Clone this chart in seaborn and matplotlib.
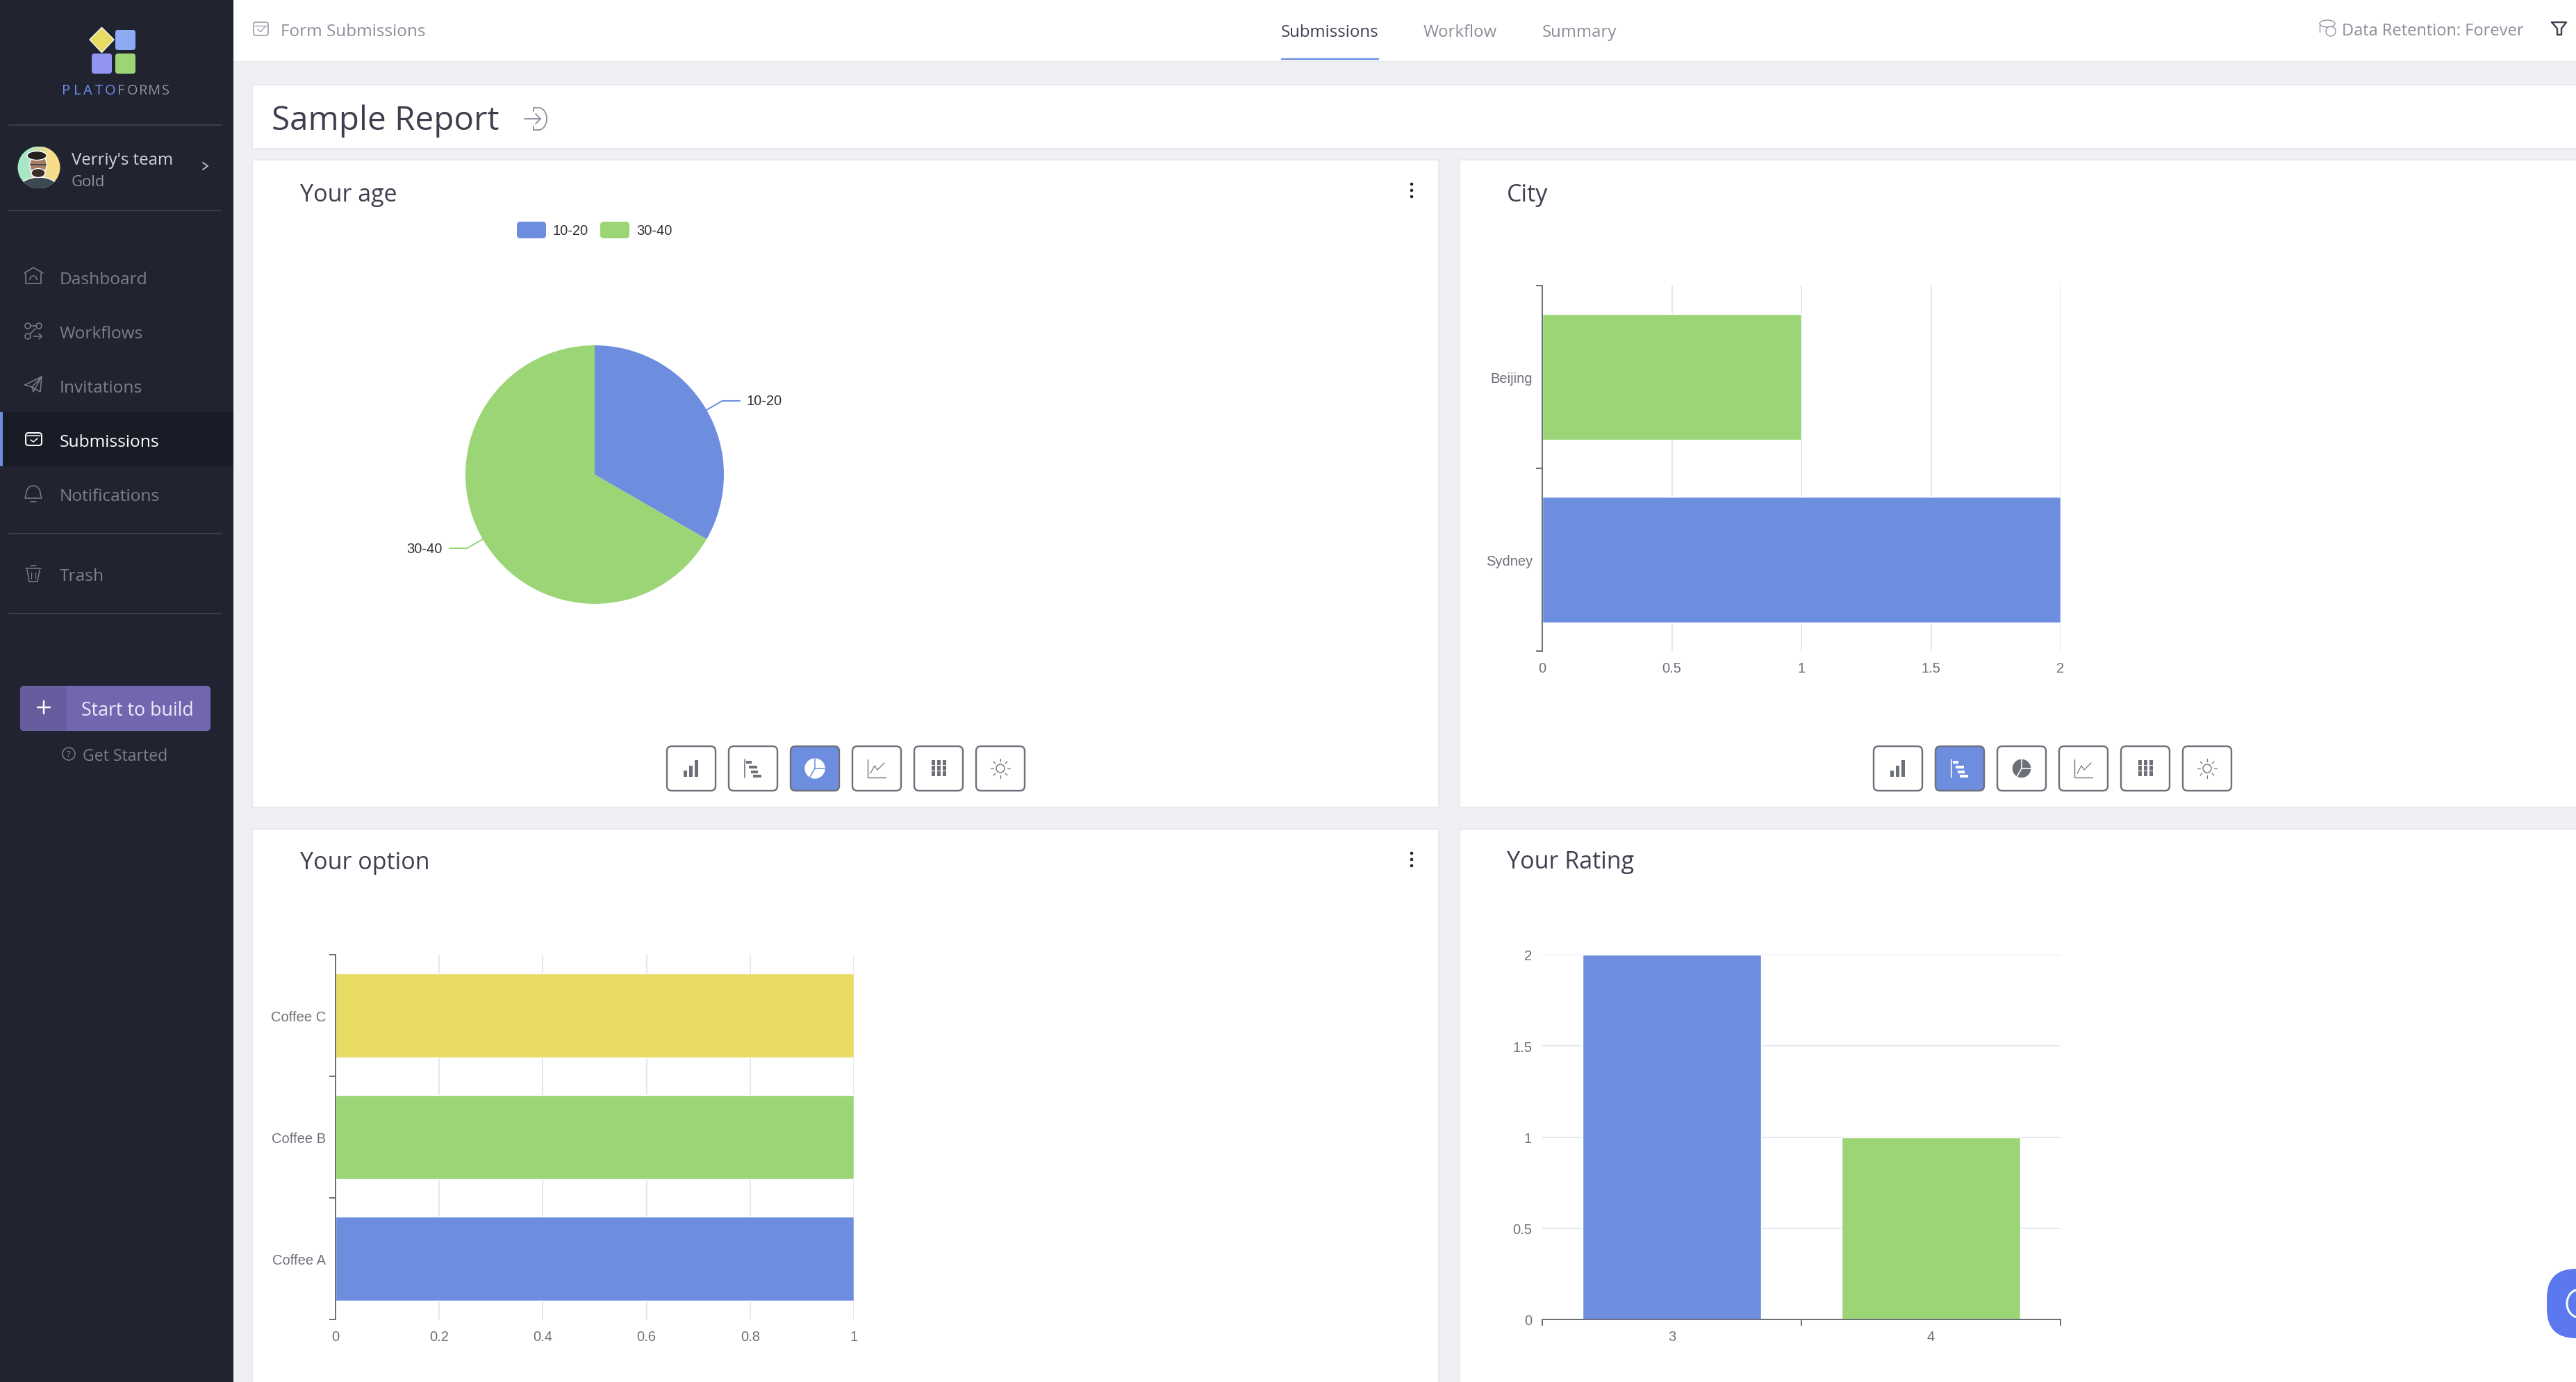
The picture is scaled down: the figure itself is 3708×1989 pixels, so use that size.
import matplotlib
matplotlib.use("Agg")
import matplotlib.pyplot as plt
import numpy as np
import pandas as pd
import seaborn as sns
from matplotlib.patches import Arc, Circle, Ellipse, FancyBboxPatch, Polygon, Rectangle, Wedge

W, H = 3708, 1990

BLUE = '#6d8ddf'
GREEN = '#9bd576'
YELLOW = '#e7db63'
AXIS = '#6e7079'
GRID = '#e4e6f2'
SIDEBAR = '#212430'
PAGE = '#eff0f4'
INK = '#3f3f50'
MUTED = '#8b8e99'

age_labels = ['10-20', '30-40']
age_values = [1, 2]
age_colors = [BLUE, GREEN]

city_labels = ['Beijing', 'Sydney']
city_values = [1, 2]
city_colors = [GREEN, BLUE]
city_ticks = [0, 0.5, 1, 1.5, 2]

option_labels = ['Coffee C', 'Coffee B', 'Coffee A']
option_values = [1, 1, 1]
option_colors = [YELLOW, GREEN, BLUE]
option_ticks = [0, 0.2, 0.4, 0.6, 0.8, 1]

rating_labels = ['3', '4']
rating_values = [2, 1]
rating_colors = [BLUE, GREEN]
rating_ticks = [0, 0.5, 1, 1.5, 2]

menu_items = ['Dashboard', 'Workflows', 'Invitations', 'Submissions', 'Notifications', 'Trash']
menu_y = [399, 477, 555, 633, 711, 826]
tabs = ['Submissions', 'Workflow', 'Summary']
tab_x = [1914, 2102, 2273]

sns.set_style("white")
plt.rcParams['font.family'] = ['Open Sans', 'DejaVu Sans']

fig = plt.figure(figsize=(W / 100, H / 100), dpi=100, facecolor=PAGE)
bg = fig.add_axes([0, 0, 1, 1], zorder=0)
bg.set_xlim(0, W)
bg.set_ylim(H, 0)
bg.axis('off')


def px(size):
    return size * 0.72


def txt(x, y, s, size, color=INK, ha='left', family='Open Sans', zorder=7, **kw):
    # Open Sans sits a little high with va='center'
    dy = 3 if family == 'Open Sans' else 0
    bg.text(x, y + dy, s, fontsize=px(size), color=color, ha=ha, va='center', family=family, zorder=zorder, **kw)


def box(x0, y0, x1, y1, color, edge='none', lw=0, round_px=0, z=3):
    if round_px:
        p = FancyBboxPatch((x0, y0), x1 - x0, y1 - y0, boxstyle=f'round,pad=0,rounding_size={round_px}',
                           fc=color, ec=edge, lw=px(lw), zorder=z)
    else:
        p = Rectangle((x0, y0), x1 - x0, y1 - y0, fc=color, ec=edge, lw=px(lw), zorder=z)
    bg.add_patch(p)


def seg(xs, ys, color, lw=2, z=4):
    bg.plot(xs, ys, color=color, lw=px(lw), zorder=z, solid_capstyle='round')


def chart_axes(x0, y0, x1, y1):
    ax = fig.add_axes([x0 / W, 1 - y1 / H, (x1 - x0) / W, (y1 - y0) / H], zorder=2)
    ax.patch.set_alpha(0)
    return ax


def plot_hbar(rect, labels, values, colors, ticks):
    ax = chart_axes(*rect)
    sns.barplot(x=values, y=labels, hue=labels, palette=colors, width=0.69, dodge=False,
                legend=False, saturation=1, ax=ax)
    ax.set_xlim(0, ticks[-1])
    ax.set_ylim(len(labels) - 0.5, -0.5)
    ax.set_xticks(ticks)
    ax.set_xticklabels([f'{t:g}' for t in ticks])
    ax.set_yticks(np.arange(-0.5, len(labels)), minor=True)
    ax.grid(axis='x', color=GRID, lw=px(2))
    ax.set_axisbelow(True)
    for side in ['top', 'right', 'bottom']:
        ax.spines[side].set_visible(False)
    ax.spines['left'].set_color(AXIS)
    ax.spines['left'].set_linewidth(px(2))
    ax.tick_params(axis='x', length=0, pad=px(15), labelsize=px(20.2), labelcolor=AXIS)
    ax.tick_params(axis='y', which='major', length=0, pad=px(14), labelsize=px(20.2), labelcolor=AXIS)
    ax.tick_params(axis='y', which='minor', left=True, length=px(9), width=px(2), color=AXIS)
    for lab in ax.get_xticklabels() + ax.get_yticklabels():
        lab.set_family('Liberation Sans')
    ax.set_xlabel('')
    ax.set_ylabel('')
    return ax


def plot_vbar(rect, labels, values, colors, ticks):
    ax = chart_axes(*rect)
    sns.barplot(x=labels, y=values, hue=labels, palette=colors, width=0.69, dodge=False,
                legend=False, saturation=1, ax=ax)
    ax.set_xlim(-0.5, len(labels) - 0.5)
    ax.set_ylim(0, ticks[-1])
    ax.set_yticks(ticks)
    ax.set_yticklabels([f'{t:g}' for t in ticks])
    ax.set_xticks(np.arange(-0.5, len(labels)), minor=True)
    ax.grid(axis='y', color=GRID, lw=px(2))
    ax.set_axisbelow(True)
    for side in ['top', 'right', 'left']:
        ax.spines[side].set_visible(False)
    ax.spines['bottom'].set_color(AXIS)
    ax.spines['bottom'].set_linewidth(px(2))
    ax.tick_params(axis='y', length=0, pad=px(15), labelsize=px(20.2), labelcolor=AXIS)
    ax.tick_params(axis='x', which='major', length=0, pad=px(15), labelsize=px(20.2), labelcolor=AXIS)
    ax.tick_params(axis='x', which='minor', bottom=True, length=px(9), width=px(2), color=AXIS)
    for lab in ax.get_xticklabels() + ax.get_yticklabels():
        lab.set_family('Liberation Sans')
    ax.set_xlabel('')
    ax.set_ylabel('')
    return ax


def plot_pie(cx, cy, r, labels, values, colors):
    ax = chart_axes(cx - r, cy - r, cx + r, cy + r)
    ax.pie(values, colors=colors, startangle=90, counterclock=False, radius=1,
           wedgeprops={'linewidth': 0})
    ax.set_xlim(-1, 1)
    ax.set_ylim(-1, 1)
    start = 90.0
    total = sum(values)
    for lab, val, col in zip(labels, values, colors):
        sweep = 360.0 * val / total
        mid = np.deg2rad(start - sweep / 2)
        start -= sweep
        ex, ey = 1.14 * np.cos(mid), 1.14 * np.sin(mid)
        sign = 1 if np.cos(mid) > 0 else -1
        ax.plot([np.cos(mid), ex, ex + sign * 0.137], [np.sin(mid), ey, ey],
                color=col, lw=px(2), clip_on=False)
        ax.text(ex + sign * 0.19, ey, lab, ha='left' if sign > 0 else 'right', va='center',
                fontsize=px(20.2), color='#333333', family='Liberation Sans')
    return ax


def plot_legend(x, y, labels, colors):
    for lab, col in zip(labels, colors):
        box(x, y - 12, x + 42, y + 12, col, round_px=5)
        txt(x + 52, y, lab, 20.2, color='#333333', family='Liberation Sans')
        x += 120


def button_row(x0, y, active):
    xs = [x0 + i * 89 for i in range(6)]
    for i, x in enumerate(xs):
        box(x, y, x + 70, y + 64, BLUE if i == active else 'white', edge=AXIS, lw=2.4, round_px=7)
    col = [('white' if active == i else AXIS) for i in range(6)]
    cy = y + 32
    # bars
    cx = xs[0] + 35
    for dx, h in zip([-11, -3, 5], [9, 16, 24]):
        box(cx + dx, cy + 12 - h, cx + dx + 5.5, cy + 12, col[0], z=4)
    # horizontal bars
    cx = xs[1] + 35
    seg([cx - 12, cx - 12], [cy - 13, cy + 13], col[1], lw=1.6)
    for dy, off, w in zip([-11, -4, 3, 9], [-10, -6, -3, 0], [8, 12, 10, 12]):
        box(cx + off, cy + dy, cx + off + w, cy + dy + 3.5, col[1], z=4)
    # pie
    cx = xs[2] + 35
    bg.add_patch(Wedge((cx, cy), 14, 0, 360, fc=col[2], zorder=4))
    fill = BLUE if active == 2 else 'white'
    seg([cx, cx], [cy - 14, cy], fill, lw=1.6, z=5)
    seg([cx, cx + 14], [cy, cy], fill, lw=1.6, z=5)
    seg([cx, cx - 7], [cy, cy + 12], fill, lw=1.6, z=5)
    # line
    cx = xs[3] + 35
    seg([cx - 13, cx - 13, cx + 13], [cy - 13, cy + 13, cy + 13], col[3], lw=1.4)
    seg([cx - 9, cx - 3, cx + 1, cx + 11], [cy + 7, cy - 4, cy + 2, cy - 8], col[3], lw=1.2)
    # grid
    cx = xs[4] + 35
    for gx in [-10, -2, 6]:
        for gy in [-12, -4, 4]:
            box(cx + gx, cy + gy, cx + gx + 5, cy + gy + 7, col[4], z=4)
    # sun
    cx = xs[5] + 35
    bg.add_patch(Circle((cx, cy), 6, fc='none', ec=col[5], lw=px(1.4), zorder=4))
    for a in np.deg2rad(np.arange(0, 360, 45)):
        seg([cx + 10 * np.cos(a), cx + 14 * np.cos(a)], [cy + 10 * np.sin(a), cy + 14 * np.sin(a)],
            col[5], lw=1.3)


def kebab(x, y):
    for dy in [-9, 0, 9]:
        bg.add_patch(Circle((x, y + dy), 3, fc='#23252f', zorder=4))


def panel(x0, y0, x1, y1):
    box(x0 - 2, y0 - 2, x1 + 2, y1 + 2, '#e8e9ee', z=1)
    box(x0, y0, x1, y1, 'white', z=1.1)


# page
panel(-4, -4, W + 4, 89)
panel(364, 124, W + 4, 214)
panel(364, 232, 2070, 1162)
panel(2102, 232, W + 4, 1162)
panel(364, 1195, 2070, H + 4)
panel(2102, 1195, W + 4, H + 4)

# sidebar
box(0, 0, 336, H, SIDEBAR, z=2)
bg.add_patch(Polygon([(129, 58), (146.5, 40.5), (164, 58), (146.5, 76.5)], fc=YELLOW, zorder=3))
box(166, 44, 195, 73, '#8eaaf2', round_px=4)
box(132, 78, 161, 107, '#9295ef', round_px=4)
box(166, 78, 195, 107, GREEN, round_px=4)
for i, ch in enumerate('PLATOFORMS'):
    txt(95 + i * 15.9, 128, ch, 20, color='#6f8fee' if i < 5 else '#8f94a3', ha='center')
for y in [181, 304, 769, 884]:
    seg([13, 319], [y, y], '#3a3d4b', lw=2)

# avatar
ring = Circle((56, 242), 30.5, transform=bg.transData)
bg.imshow([[0, 1]], extent=(25, 87, 272, 212), cmap=plt.cm.colors.LinearSegmentedColormap.from_list(
    'av', ['#a9e6c8', '#f7dc8c']), interpolation='bilinear', aspect='auto', clip_path=ring, zorder=3)
bg.set_xlim(0, W)
bg.set_ylim(H, 0)
shirt = Ellipse((56, 272), 56, 32, fc='#3a4a50', zorder=3.1)
bg.add_patch(shirt)
shirt.set_clip_path(ring)
bg.add_patch(Ellipse((55, 238), 24, 32, fc='#a67c64', zorder=3.2))
bg.add_patch(Ellipse((53, 225), 28, 13, fc='#23201f', zorder=3.3))
bg.add_patch(Ellipse((55, 250), 20, 13, fc='#3a2d28', zorder=3.25))
seg([44, 66], [238, 238], '#4a4a4a', lw=2, z=3.4)
txt(103, 228, "Verriy's team", 24, color='#d5d6da')
txt(103, 260, 'Gold', 22, color='#8f919a')
seg([292, 299, 292], [235, 240, 245], '#b5b6bb', lw=2)

# menu
box(0, 594, 336, 672, '#191c26', z=2.5)
box(0, 594, 4, 672, BLUE, z=2.6)
for item, y in zip(menu_items, menu_y):
    active = item == 'Submissions'
    c = 'white' if active else '#7d7f88'
    txt(86, y + 1, item, 24.5, color=c)
    if item == 'Dashboard':
        seg([35, 48, 62], [394, 386, 394], c, lw=1.6)
        seg([37, 37, 59, 59], [394, 409, 409, 394], c, lw=1.6)
        bg.add_patch(Arc((48, 404), 10, 12, theta1=180, theta2=360, ec=c, lw=px(1.5), zorder=4))
    elif item == 'Workflows':
        for xx, yy in [(40, 470), (56, 470), (40, 485)]:
            bg.add_patch(Circle((xx, yy), 4, fc='none', ec=c, lw=px(1.5), zorder=4))
        seg([44, 52], [470, 470], c, lw=1.5)
        seg([43, 51], [482, 474], c, lw=1.5)
        seg([48, 60], [485, 485], c, lw=1.5)
        seg([56, 60, 56], [481, 485, 489], c, lw=1.5)
    elif item == 'Invitations':
        seg([36, 60, 58, 46, 36], [555, 543, 565, 558, 555], c, lw=1.5)
        seg([46, 60, 48, 46], [558, 543, 565, 558], c, lw=1.5)
    elif item == 'Submissions':
        box(37, 624, 60, 642, 'none', edge=c, lw=2, round_px=4, z=4)
        seg([39, 58], [628, 628], c, lw=1.5)
        seg([44, 48, 54], [634, 637, 632], c, lw=1.5)
    elif item == 'Notifications':
        bg.add_patch(Arc((48, 711), 20, 22, theta1=180, theta2=360, ec=c, lw=px(1.5), zorder=4))
        seg([38, 36, 60, 58], [711, 718, 718, 711], c, lw=1.5)
        seg([44, 52], [723, 723], c, lw=1.5)
    elif item == 'Trash':
        seg([37, 59], [819, 819], c, lw=1.5)
        seg([39, 42, 54, 57], [821, 838, 838, 821], c, lw=1.5)
        seg([44, 52], [815, 815], c, lw=1.5)
        seg([45, 45], [825, 834], c, lw=1.2)
        seg([51, 51], [825, 834], c, lw=1.2)

# start button
box(29, 988, 303, 1053, '#7166b0', round_px=6)
box(29, 988, 96, 1053, '#675c9e', round_px=6, z=3.1)
seg([54, 72], [1019, 1019], 'white', lw=2.5)
seg([63, 63], [1010, 1028], 'white', lw=2.5)
txt(117, 1020, 'Start to build', 26.8, color='#eceaf5')
bg.add_patch(Circle((99, 1086), 9, fc='none', ec='#7d7f88', lw=px(1.5), zorder=4))
txt(99, 1084, '?', 13, color='#7d7f88', ha='center')
txt(119, 1086, 'Get Started', 23, color='#7d7f88')

# top bar
box(365, 33, 386, 52, 'none', edge=MUTED, lw=1.5, round_px=3)
seg([367, 384], [38, 38], MUTED, lw=1.2)
seg([371, 375, 381], [43, 47, 40], MUTED, lw=1.2)
txt(404, 43, 'Form Submissions', 24.2, color=MUTED)
for i, (tab, x) in enumerate(zip(tabs, tab_x)):
    txt(x, 44, tab, 24, color=INK if i == 0 else MUTED, ha='center')
seg([1845, 1984], [86, 86], BLUE, lw=2.5)
bg.add_patch(Ellipse((3350, 35), 22, 10, fc='none', ec=MUTED, lw=px(1.3), zorder=4))
seg([3339, 3339], [35, 47], MUTED, lw=1.3)
bg.add_patch(Circle((3355, 46), 7, fc='white', ec=MUTED, lw=px(1.3), zorder=4))
txt(3371, 42, 'Data Retention: Forever', 23.6, color=MUTED)
seg([3673, 3694, 3687, 3687, 3681, 3681, 3673], [33, 33, 42, 51, 51, 42, 33], INK, lw=2.4)

# report header
txt(391, 171, 'Sample Report', 47.6, color=INK)
bg.add_patch(Arc((775, 172), 24, 32, theta1=-90, theta2=90, ec=MUTED, lw=px(1.8), zorder=4))
seg([768, 768], [156, 161], MUTED, lw=1.8)
seg([768, 768], [183, 188], MUTED, lw=1.8)
seg([768, 775], [156, 156], MUTED, lw=1.8)
seg([768, 775], [188, 188], MUTED, lw=1.8)
seg([755, 778], [172, 172], MUTED, lw=1.8)
seg([771, 778, 771], [165, 172, 179], MUTED, lw=1.8)

# panel titles
txt(432, 278, 'Your age', 34)
txt(2169, 278, 'City', 34)
txt(432, 1239, 'Your option', 34)
txt(2169, 1238, 'Your Rating', 34)
kebab(2032, 275)
kebab(2032, 1238)

# charts
plot_legend(744, 332, age_labels, age_colors)
plot_pie(856, 684, 186, age_labels, age_values, age_colors)
plot_hbar((2220, 412, 2966, 938), city_labels, city_values, city_colors, city_ticks)
plot_hbar((483, 1375, 1229, 1900), option_labels, option_values, option_colors, option_ticks)
plot_vbar((2220, 1375, 2966, 1900), rating_labels, rating_values, rating_colors, rating_ticks)

button_row(960, 1075, 2)
button_row(2697, 1075, 1)

# chat bubble, cut by the right edge
box(3666, 1827, 3790, 1927, '#5b78ee', round_px=42, z=5)
bg.add_patch(Arc((3712, 1877), 34, 40, theta1=100, theta2=260, ec='white', lw=px(3), zorder=6))

fig.savefig('out.png', dpi=100, facecolor=PAGE)
plt.close(fig)
